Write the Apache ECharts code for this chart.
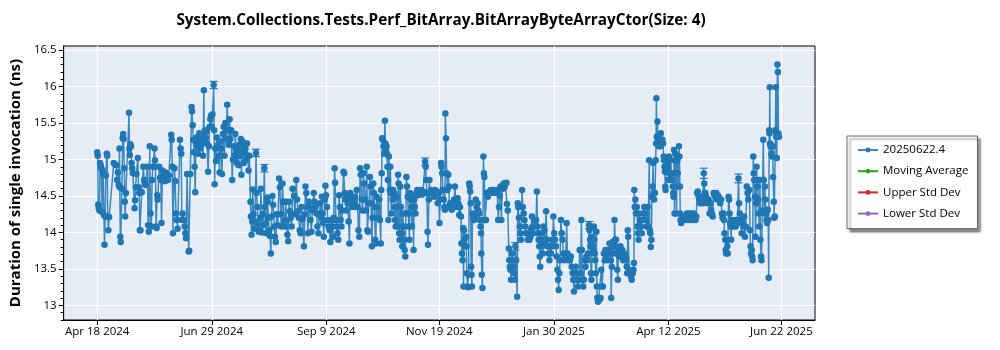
<!DOCTYPE html>
<html>
<head>
<meta charset="utf-8">
<title>BitArrayByteArrayCtor(Size: 4)</title>
<script src="https://cdn.jsdelivr.net/npm/echarts@6/dist/echarts.min.js"></script>
<style>
  html, body { margin: 0; padding: 0; background: #ffffff; }
  #chart { width: 1000px; height: 350px; }
</style>
</head>
<body>
<div id="chart"></div>
<script>
// Run results: x = days since the first run (Apr 18 2024), y = duration in ns.
const aprJun2024 = [
  [0,15.10],[0.3,15.05],[0.6,14.38],[1.0,14.33],[1.4,14.30],[1.8,14.95],[2.2,14.92],[2.6,14.88],[3.0,14.28],[3.4,14.85],
  [3.8,14.80],[4.2,14.24],[4.6,13.83],[5.0,14.22],[5.4,14.78],[6.0,15.08],[6.3,15.05],[6.6,14.22],[7.0,14.03],[7.5,14.21],
  [10.4,14.95],[11.2,14.93],[12.0,14.92],[12.5,14.72],[13.0,14.82],[13.5,14.65],[14.0,15.15],[14.2,14.62],[14.5,13.94],[14.8,13.87],
  [15.5,14.60],[16.0,15.29],[16.3,15.35],[16.6,15.28],[17.0,14.88],[17.3,14.42],[17.6,14.22],[18.0,14.54],[20.0,15.64],[20.2,15.15],
  [20.5,15.06],[20.8,15.21],[21.2,15.18],[21.6,14.95],[22.0,14.88],[22.4,14.81],[23.5,14.33],[23.8,14.44],[24.2,14.62],[24.6,14.80],
  [25.5,15.02],[26.0,14.62],[26.4,14.54],[26.8,14.03],[27.2,14.03],[28.0,14.55],[29.0,14.90],[29.5,14.72],[30.0,14.68],[30.5,14.65],
  [31.5,14.90],[32.0,14.10],[32.4,14.01],[33.0,15.18],[33.5,14.26],[34.0,14.08],[34.5,14.72],[35.0,14.90],[36.0,15.15],[36.3,14.99],
  [36.6,14.90],[37.0,14.08],[37.3,14.06],[37.7,14.51],[38.0,14.45],[39.0,14.90],[39.5,14.75],[40.0,14.72],[40.4,14.13],[41.0,14.85],
  [41.5,14.78],[42.0,14.75],[42.5,14.70],[43.0,14.82],[43.5,14.74],[44.0,14.80],[44.5,14.72],[45.0,14.78],[46.5,15.34],[46.8,15.27],
  [47.2,14.90],[47.6,13.99],[48.5,14.88],[49.0,14.70],[49.5,14.26],[50.0,14.17],[50.5,14.05],[52.0,15.27],[52.4,15.15],[52.8,15.08],
  [53.2,14.17],[53.6,14.26],[54.5,14.17],[55.0,14.08],[55.4,13.99],[55.8,13.92],[56.5,14.80],[57.5,13.74],[57.8,13.75],[58.5,14.80]
];

const junSep2024 = [
  [59.3,15.72],[59.6,15.66],[60.0,15.47],[60.4,15.27],[60.8,15.10],[61.2,14.90],[61.6,14.55],[62.0,15.24],[62.4,15.30],[62.8,15.18],
  [63.2,15.08],[63.6,15.22],[64.1,15.36],[64.6,15.15],[65.0,15.28],[65.5,15.20],[66.0,15.32],[66.5,15.05],[67.0,15.95],[67.3,15.25],
  [67.7,15.40],[68.2,15.30],[68.6,15.38],[69.0,15.22],[69.7,14.83],[70.2,15.18],[70.6,15.45],[71.1,15.55],[71.5,15.60],[71.9,15.45],
  [72.4,15.62],[73.2,16.02],[73.5,15.40],[73.8,14.66],[74.2,15.15],[74.6,14.98],[75.2,15.30],[75.9,15.20],[76.4,15.05],[76.9,14.82],
  [77.4,15.25],[77.9,15.15],[78.4,14.80],[79.0,15.35],[79.5,15.45],[80.0,15.05],[80.5,15.50],[81.0,15.28],[81.7,15.75],[82.2,15.40],
  [82.7,15.20],[83.2,15.55],[83.7,15.28],[84.2,15.40],[84.8,14.72],[85.3,15.00],[85.8,15.18],[86.3,15.05],[86.8,15.35],[87.3,15.15],
  [87.8,14.95],[88.3,15.12],[88.8,14.92],[89.3,15.20],[89.8,15.05],[90.3,15.28],[90.6,14.79],[91.1,15.25],[91.6,15.10],[92.1,14.95],
  [92.6,15.22],[93.1,15.15],[93.6,15.00],[94.1,15.22],[94.6,15.05],[95.1,14.85],[95.6,15.05],[96.3,14.42],[96.6,14.22],[97.0,13.97],
  [97.4,14.15],[97.7,14.59],[98.2,14.25],[98.7,14.05],[99.2,14.15],[99.8,15.09],[100.2,14.54],[100.6,14.35],[101.0,14.12],[101.5,14.01],
  [101.9,14.03],[102.4,14.20],[102.9,14.60],[103.5,14.00],[104.0,14.25],[104.5,14.10],[105.0,14.88],[105.4,14.35],[105.8,14.12],[106.3,13.99],
  [106.8,14.48],[107.1,14.42],[107.6,14.20],[108.1,14.03],[108.6,13.95],[109.1,13.71],[109.6,14.22],[110.1,14.50],[110.6,14.38],[111.2,14.08],
  [111.7,13.94],[112.2,13.87],[112.8,14.25],[113.5,14.10],[114.3,14.74],[114.8,14.62],[115.3,14.25],[115.8,14.08],[116.4,14.67],[116.9,14.42],
  [117.4,14.16],[117.9,14.08],[118.5,14.42],[119.0,14.16],[119.5,13.97],[120.0,13.88],[120.6,14.42],[121.1,14.29],[121.6,14.20],[122.2,14.08],
  [122.8,14.60],[123.7,14.50],[124.2,14.25],[125.1,14.72],[125.6,14.45],[126.1,14.29],[126.7,14.20],[127.3,14.03],[127.8,13.99],[128.4,14.35],
  [129.0,14.18],[129.9,13.81],[130.4,14.25],[130.9,14.63],[131.4,14.54],[131.9,14.35],[132.4,13.99],[133.0,14.42],[133.5,14.35],[134.0,14.17],
  [134.6,14.01],[135.2,14.30],[136.1,14.54],[136.6,14.42],[137.2,14.35],[137.8,14.26],[138.4,14.08],[139.0,13.99],[139.6,14.26],[140.2,14.40],
  [140.8,14.20]
];

const sepNov2024 = [
  [141.2,14.49],[141.6,14.26],[142.0,14.13],[142.4,13.94],[143.0,14.45],[143.4,14.64],[143.8,14.51],[144.4,14.35],[144.9,14.17],[145.4,14.08],
  [146.0,14.03],[146.5,13.87],[147.0,14.17],[147.6,14.08],[148.1,13.94],[148.6,14.20],[149.2,14.88],[149.5,14.68],[150.0,14.17],[150.5,14.08],
  [151.0,13.99],[151.5,13.90],[152.0,14.51],[152.5,14.35],[153.0,14.17],[153.5,14.08],[154.0,14.30],[154.8,14.83],[155.2,14.81],[155.6,14.54],
  [156.0,14.45],[156.5,14.30],[156.9,14.49],[157.4,14.40],[158.0,14.15],[158.5,13.85],[159.0,14.54],[159.6,14.45],[160.2,14.35],[160.8,14.49],
  [161.4,14.40],[162.1,14.49],[162.6,14.35],[163.1,14.58],[163.6,14.35],[164.2,14.03],[164.7,13.94],[165.2,14.88],[165.6,14.79],[166.2,14.45],
  [166.8,14.30],[167.3,14.81],[167.7,14.67],[168.3,14.45],[168.9,14.30],[169.4,14.90],[169.8,14.03],[170.2,14.01],[170.8,14.40],[171.4,14.76],
  [171.8,14.63],[172.2,14.40],[172.6,13.81],[173.0,14.20],[173.5,14.67],[173.9,14.54],[174.3,14.35],[174.7,13.90],[175.1,13.85],[175.6,14.49],
  [176.1,14.35],[176.7,14.20],[177.2,14.45],[177.7,14.17],[178.2,13.85],[178.5,14.58],[178.8,14.81],[179.1,15.29],[179.5,15.27],[179.9,15.18],
  [180.3,15.08],[180.8,15.53],[181.1,15.22],[181.4,15.13],[181.8,15.18],[182.1,15.08],[182.4,14.90],[182.7,14.72],[183.0,14.17],[183.3,15.04],
  [183.6,14.90],[183.9,14.58],[184.2,14.90],[184.5,14.54],[184.9,14.26],[185.3,14.58],[185.7,14.45],[186.0,14.58],[186.4,14.54],[186.8,14.35],
  [187.2,14.17],[187.6,14.08],[188.1,14.49],[188.5,14.35],[188.9,14.08],[189.1,14.79],[189.4,14.67],[189.8,13.99],[190.1,13.90],[190.5,14.63],
  [190.9,14.35],[191.3,13.99],[191.7,13.81],[192.1,14.26],[192.5,14.08],[192.8,13.90],[193.2,13.76],[193.6,13.67],[194.0,14.26],[194.3,14.76],
  [194.7,14.63],[195.1,14.49],[195.5,14.26],[195.9,14.08],[196.2,13.90],[196.6,14.54],[197.0,14.45],[197.4,14.35],[197.8,14.08],[198.4,14.49],
  [198.8,13.76],[199.2,14.45],[199.6,14.35],[200.0,14.26],[200.6,14.54],[201.2,14.58],[201.8,14.51],[202.4,14.56],[203.0,14.54],[203.6,14.58],
  [204.2,14.52],[204.8,14.56],[205.4,14.54],[206.1,14.97],[206.4,14.90],[206.8,14.72],[207.2,14.54],[207.6,14.01],[207.9,13.83],[208.4,14.45],
  [208.8,14.72],[209.2,14.54],[209.9,14.58],[210.5,14.54],[211.1,14.56],[211.7,14.49],[212.3,14.58],[212.9,14.54],[213.5,14.56],[214.0,14.40],
  [214.6,14.54],[215.1,14.13],[215.6,14.45],[216.1,14.95],[216.4,14.90],[216.8,14.81],[217.2,14.58],[217.7,14.45],[218.2,14.35],[218.5,14.31],
  [218.8,15.63],[219.2,15.29],[219.6,14.81],[220.2,14.58]
];

const novFeb2025 = [
  [220.6,14.79],[221.0,14.63],[221.3,14.35],[221.8,14.40],[222.3,14.35],[222.8,14.31],[223.3,14.40],[223.8,14.35],[224.3,14.45],[224.8,14.63],
  [225.4,14.35],[225.9,14.40],[226.5,14.47],[226.9,14.40],[227.5,14.24],[228.0,14.35],[228.6,14.22],[228.9,13.85],[229.2,13.71],[229.6,13.62],
  [230.0,14.06],[230.2,13.26],[230.5,14.03],[230.8,13.90],[231.2,13.81],[231.7,13.94],[232.0,13.81],[232.3,13.44],[232.7,13.26],[233.1,13.25],
  [233.4,13.42],[233.8,14.67],[234.1,14.63],[234.4,14.56],[234.7,14.40],[235.0,13.53],[235.2,13.42],[235.5,13.26],[235.8,14.26],[236.3,14.22],
  [236.8,14.17],[237.3,14.20],[237.9,14.45],[238.4,14.35],[239.0,14.40],[239.5,14.30],[240.0,14.26],[240.5,14.17],[240.9,14.08],[241.2,13.99],
  [241.4,13.71],[241.7,13.42],[242.1,13.24],[242.7,15.04],[243.0,14.81],[243.3,14.76],[243.7,14.17],[244.3,14.17],[244.9,14.54],[245.5,14.49],
  [246.2,14.54],[246.8,14.56],[247.4,14.58],[248.0,14.56],[248.6,14.54],[249.2,14.58],[249.8,14.56],[250.4,14.54],[251.0,14.56],[251.4,14.58],
  [252.0,14.17],[252.5,14.35],[253.0,14.50],[253.5,14.63],[254.0,14.17],[254.5,14.63],[255.0,14.60],[255.5,14.67],[256.0,14.62],[256.6,14.67],
  [257.2,14.68],[257.5,14.39],[258.0,14.30],[258.7,13.78],[259.0,13.62],[259.3,13.53],[259.7,13.49],[260.1,13.35],[260.7,13.71],[261.2,13.62],
  [261.7,13.53],[262.2,13.44],[262.5,13.35],[262.8,13.81],[263.3,13.62],[263.9,13.12],[264.3,14.40],[264.6,14.35],[265.0,14.20],[265.5,14.08],
  [265.9,13.99],[266.3,13.90],[267.0,14.58],[267.4,14.35],[268.0,14.26],[268.5,14.17],[269.0,14.08],[269.5,13.99],[270.1,13.99],[270.6,13.90],
  [271.2,13.99],[271.7,13.90],[272.2,13.94],[272.7,14.05],[273.2,14.22],[273.6,14.08],[274.0,13.99],[274.6,14.17],[275.3,14.08],[275.8,14.17],
  [276.3,14.56],[276.7,14.08],[277.0,13.99],[277.4,13.90],[277.8,13.81],[278.1,13.67],[278.4,13.53],[278.8,13.99],[279.2,13.90],[279.6,13.81],
  [280.0,13.71],[280.5,14.08],[281.0,14.03],[281.5,13.85],[282.1,14.29],[282.6,13.90],[283.1,13.81],[283.7,13.71],[284.2,13.62],[284.7,13.81],
  [285.2,13.71],[285.7,13.90],[286.2,13.81],[286.7,14.22],[287.2,13.99],[287.7,13.90],[288.3,13.81],[288.8,13.67],[289.2,13.49],[289.6,13.35],
  [290.0,13.21],[290.4,13.44],[290.9,13.62],[291.4,14.17],[291.9,13.99],[292.4,13.90],[293.0,13.71],[293.5,13.62],[294.0,13.67],[294.5,13.71],
  [295.0,14.13],[295.5,13.71],[296.0,13.62],[296.5,13.67],[297.1,13.62],[297.6,13.67],[298.2,13.53],[298.8,13.44],[299.2,13.35],[299.6,13.19],
  [300.2,13.44],[300.7,13.53],[301.2,13.44],[301.7,13.35],[302.2,13.26],[302.7,13.35],[303.2,13.76],[303.8,13.44]
];

const febMay2025 = [
  [304.3,14.17],[304.6,13.76],[305.0,13.35],[305.4,13.26],[305.8,13.35],[306.4,13.62],[306.9,13.53],[307.4,13.67],[308.0,13.62],[308.5,13.71],
  [309.1,14.10],[309.4,14.03],[309.7,13.90],[310.0,13.81],[310.3,13.44],[310.6,13.35],[311.2,13.94],[311.5,13.81],[311.8,13.74],[312.1,14.08],
  [312.4,13.90],[312.7,13.71],[313.0,13.62],[313.3,13.44],[313.7,14.01],[314.0,13.26],[314.3,13.10],[314.7,13.05],[315.2,13.10],[315.8,13.08],
  [316.3,13.10],[316.8,13.49],[317.3,13.26],[317.8,13.26],[318.4,13.71],[318.9,13.62],[319.4,13.76],[319.9,13.67],[320.4,13.71],[320.9,13.62],
  [321.4,13.76],[322.0,13.85],[322.4,13.71],[322.8,13.62],[323.0,13.10],[323.4,13.53],[324.0,13.87],[324.4,13.81],[324.8,13.71],[325.1,14.17],
  [325.5,13.90],[325.8,13.81],[326.1,13.90],[326.5,13.71],[326.8,13.49],[327.2,13.35],[327.7,13.76],[328.2,13.67],[328.8,13.81],[329.4,13.71],
  [330.0,13.76],[330.6,13.62],[331.2,13.71],[331.8,13.67],[332.4,13.62],[332.8,13.53],[333.1,13.44],[333.4,14.03],[333.7,13.94],[334.4,13.49],
  [334.9,13.44],[335.4,13.40],[335.9,13.35],[336.5,13.44],[337.0,13.49],[337.3,13.58],[337.5,14.58],[337.8,14.35],[338.2,14.45],[338.6,14.26],
  [339.1,14.35],[339.6,14.08],[339.9,13.99],[340.2,13.90],[340.7,14.26],[341.2,14.17],[341.7,14.08],[342.2,13.99],[342.7,14.17],[343.3,14.26],
  [343.8,14.35],[344.3,14.26],[344.8,14.17],[345.4,14.08],[345.9,14.35],[346.3,14.08],[346.9,14.99],[347.3,14.03],[347.6,13.99],[347.9,13.80],
  [348.3,13.90],[348.6,14.49],[349.0,14.63],[349.3,14.95],[349.7,14.54],[350.0,14.45],[350.5,14.54],[351.0,14.99],[351.2,15.22],[351.4,15.84],
  [351.7,15.31],[352.1,15.52],[352.4,15.27],[352.8,15.18],[353.1,15.27],[353.5,15.22],[353.8,15.18],[354.2,15.36],[354.5,15.27],[354.8,15.22],
  [355.2,15.27],[355.6,15.22],[356.0,15.04],[356.2,14.99],[356.5,14.90],[356.8,14.83],[357.0,14.63],[357.2,14.58],[357.5,14.99],[357.9,14.90],
  [358.3,14.99],[358.7,14.90],[359.0,14.72],[359.3,15.04],[359.6,14.99],[359.9,14.81],[360.2,14.72],[360.4,14.99],[360.8,14.81],[361.1,14.81],
  [361.4,14.72],[361.7,14.63],[362.0,14.54],[362.2,14.49],[362.5,15.13],[362.8,14.26],[363.2,15.08],[363.5,14.99],[363.8,14.81],[364.1,14.26],
  [364.5,14.99],[364.8,14.81],[365.1,14.63],[365.6,15.18],[365.9,15.04],[366.2,14.63],[366.4,14.26],[366.6,14.17],[367.0,14.13],[367.7,14.20],
  [368.3,14.17],[368.9,14.22],[369.5,14.17],[370.1,14.20],[370.7,14.26],[371.3,14.17],[371.8,14.22],[372.3,14.26],[372.8,14.17],[373.4,14.26],
  [373.9,14.22],[374.5,14.17],[375.0,14.26],[375.5,14.20],[376.0,14.17],[376.5,14.22],[377.0,14.54],[377.4,14.56],[378.0,14.49],[378.5,14.45],
  [379.0,14.40],[379.6,14.45],[380.1,14.49],[380.6,14.40],[381.2,14.81],[381.5,14.67],[381.8,14.54],[382.2,14.54],[382.7,14.49],[383.2,14.45],
  [383.7,14.40],[384.2,14.45],[384.8,14.26],[385.3,14.40]
];

const mayJun2025 = [
  [385.8,14.31],[386.3,14.26],[386.8,14.22],[387.4,14.54],[388.0,14.51],[388.5,14.49],[389.0,14.54],[389.5,14.45],[390.0,14.51],[390.5,14.49],
  [391.0,14.45],[391.5,14.40],[392.1,14.45],[392.6,14.26],[393.0,14.20],[393.6,14.26],[393.9,14.17],[394.2,13.99],[394.7,13.90],[395.0,13.76],
  [395.3,13.71],[395.7,13.90],[396.0,13.81],[396.3,13.71],[396.8,14.49],[397.1,14.45],[397.4,14.26],[397.8,14.13],[398.1,14.08],[398.4,13.90],
  [398.8,14.17],[399.3,14.13],[399.8,14.08],[400.3,14.17],[400.8,14.13],[401.3,14.08],[401.9,14.17],[402.4,14.13],[403.0,14.74],[403.4,14.40],
  [403.8,14.26],[404.2,14.17],[404.6,14.13],[405.0,13.99],[405.5,14.13],[406.1,14.08],[406.6,14.22],[407.1,13.94],[407.6,14.08],[408.2,14.63],
  [408.7,14.54],[409.2,14.45],[409.8,14.58],[410.3,14.03],[410.6,13.81],[410.9,13.71],[411.3,13.76],[411.6,13.67],[411.9,13.62],[412.3,15.04],
  [412.6,14.81],[412.9,14.72],[413.4,14.49],[413.7,13.94],[414.1,14.40],[414.4,14.90],[414.7,14.72],[415.1,14.63],[415.4,14.45],[415.7,14.26],
  [416.0,14.08],[416.5,14.72],[416.8,13.90],[417.2,13.67],[417.5,13.62],[418.0,14.30],[418.6,15.27],[418.9,14.72],[419.2,14.26],[419.6,14.63],
  [419.9,14.45],[420.3,14.26],[420.6,14.17],[421.0,14.13],[421.4,14.31],[421.7,14.17],[422.0,13.38],[422.3,15.40],[422.5,15.36],[422.7,15.99],
  [422.9,15.22],[423.2,15.18],[423.5,15.18],[423.8,15.08],[424.1,15.04],[424.5,15.18],[424.8,14.76],[425.2,14.42],[425.5,14.20],[425.8,14.22],
  [426.2,15.40],[426.5,15.99],[426.7,15.31],[426.9,15.36],[427.1,15.02],[427.5,16.30],[427.8,16.20],[428.1,15.36],[428.5,15.31]
];

// Runs whose spread is wide enough to show: [day, low, high]
const spreadBars = [
  [73.2,15.97,16.07],[99.8,15.04,15.14],[105.0,14.83,14.93],[206.1,14.92,15.02],
  [262.8,13.76,13.86],[309.1,14.05,14.15],[381.2,14.74,14.88],[403.0,14.68,14.80]
];

const seriesName = '20250622.4';
const legendNames = ['20250622.4', 'Moving Average', 'Upper Std Dev', 'Lower Std Dev'];
const seriesColors = ['#1f77b4', '#2ca02c', '#d62728', '#9467bd'];

const xTickDays = [0, 72, 144, 215, 287, 359, 430];
const xTickLabels = ['Apr 18 2024', 'Jun 29 2024', 'Sep 9 2024', 'Nov 19 2024', 'Jan 30 2025', 'Apr 12 2025', 'Jun 22 2025'];
const yTickValues = [13, 13.5, 14, 14.5, 15, 15.5, 16, 16.5];
const yTickLabels = ['13', '13.5', '14', '14.5', '15', '15.5', '16', '16.5'];

const runs = [].concat(aprJun2024, junSep2024, sepNov2024, novFeb2025, febMay2025, mayJun2025);

const X_MIN = -21.1, X_MAX = 451.1;
const Y_MIN = 12.8, Y_MAX = 16.555;

// minor tick positions every 0.1 ns along the value axis
const yMinorTicks = [];
for (let i = 128; i <= 165; i++) yMinorTicks.push(i / 10);

const FONT = '"Open Sans", "Noto Sans", sans-serif';

const chart = echarts.init(document.getElementById('chart'), null, { renderer: 'canvas' });

const option = {
  animation: false,
  backgroundColor: '#ffffff',
  textStyle: { fontFamily: FONT },
  title: {
    text: 'System.Collections.Tests.Perf_BitArray.BitArrayByteArrayCtor(Size: 4)',
    left: 436,
    textAlign: 'center',
    top: 8,
    textStyle: { fontFamily: FONT, fontSize: 15.3, fontWeight: 'bold', color: '#000' }
  },
  legend: {
    orient: 'vertical',
    left: 847,
    top: 136,
    data: legendNames,
    itemWidth: 20,
    itemHeight: 6,
    itemGap: 7.2,
    padding: [7, 9, 8, 10],
    backgroundColor: '#ffffff',
    borderColor: '#666666',
    borderWidth: 1,
    shadowColor: 'rgba(0,0,0,0.45)',
    shadowOffsetX: 3,
    shadowOffsetY: 3,
    shadowBlur: 2,
    textStyle: { fontFamily: FONT, fontSize: 11.5, lineHeight: 14, color: '#000' },
    selectedMode: false
  },
  grid: {
    left: 57.5,
    right: 185,
    top: 46,
    bottom: 30,
    show: true,
    backgroundColor: '#E5ECF6',
    borderColor: '#000',
    borderWidth: 1
  },
  xAxis: {
    type: 'value',
    min: X_MIN,
    max: X_MAX,
    axisLine: { show: true, onZero: false, lineStyle: { color: '#000', width: 1 } },
    axisTick: { show: true, length: 5, customValues: xTickDays, lineStyle: { color: '#000' } },
    axisLabel: {
      customValues: xTickDays,
      formatter: v => xTickLabels[xTickDays.indexOf(v)] || '',
      fontFamily: FONT, fontSize: 11.5, color: '#000', margin: 6
    },
    splitLine: { show: true, lineStyle: { color: '#ffffff', width: 1.2 } }
  },
  yAxis: [
    {
      type: 'value',
      min: Y_MIN,
      max: Y_MAX,
      name: 'Duration of single invocation (ns)',
      nameLocation: 'middle',
      nameGap: 39,
      nameTextStyle: { fontFamily: FONT, fontSize: 15, fontWeight: 'bold', color: '#000' },
      axisLine: { show: true, onZero: false, lineStyle: { color: '#000', width: 1 } },
      axisTick: { show: true, length: 5, customValues: yTickValues, lineStyle: { color: '#000' } },
      axisLabel: {
        customValues: yTickValues,
        formatter: v => yTickLabels[yTickValues.indexOf(v)] || '',
        fontFamily: FONT, fontSize: 11.5, color: '#000', margin: 7
      },
      splitLine: { show: true, lineStyle: { color: '#ffffff', width: 1.2 } }
    },
    {
      type: 'value',
      min: Y_MIN,
      max: Y_MAX,
      position: 'left',
      axisLine: { show: false, onZero: false },
      axisTick: { show: true, length: 3, customValues: yMinorTicks, lineStyle: { color: '#000' } },
      axisLabel: { show: false },
      splitLine: { show: false }
    }
  ],
  series: [
    {
      name: seriesName,
      type: 'line',
      data: runs,
      symbol: 'circle',
      symbolSize: 6.5,
      showAllSymbol: true,
      color: seriesColors[0],
      lineStyle: { width: 1.5, color: seriesColors[0], opacity: 0.85 },
      itemStyle: { color: seriesColors[0] },
      emphasis: { disabled: true },
      z: 3
    },
    {
      name: seriesName,
      type: 'custom',
      data: spreadBars,
      z: 4,
      silent: true,
      renderItem: function (params, api) {
        const x = api.value(0);
        const lo = api.coord([x, api.value(1)]);
        const hi = api.coord([x, api.value(2)]);
        const w = 4;
        const st = { stroke: seriesColors[0], lineWidth: 1.2 };
        return {
          type: 'group',
          children: [
            { type: 'line', shape: { x1: lo[0], y1: lo[1], x2: hi[0], y2: hi[1] }, style: st },
            { type: 'line', shape: { x1: lo[0] - w, y1: lo[1], x2: lo[0] + w, y2: lo[1] }, style: st },
            { type: 'line', shape: { x1: hi[0] - w, y1: hi[1], x2: hi[0] + w, y2: hi[1] }, style: st }
          ]
        };
      }
    },
    { name: legendNames[1], type: 'line', data: [], symbol: 'circle', symbolSize: 5, lineStyle: { width: 1.2 }, color: seriesColors[1] },
    { name: legendNames[2], type: 'line', data: [], symbol: 'circle', symbolSize: 5, lineStyle: { width: 1.2 }, color: seriesColors[2] },
    { name: legendNames[3], type: 'line', data: [], symbol: 'circle', symbolSize: 5, lineStyle: { width: 1.2 }, color: seriesColors[3] }
  ]
};

chart.setOption(option);
</script>
</body>
</html>
